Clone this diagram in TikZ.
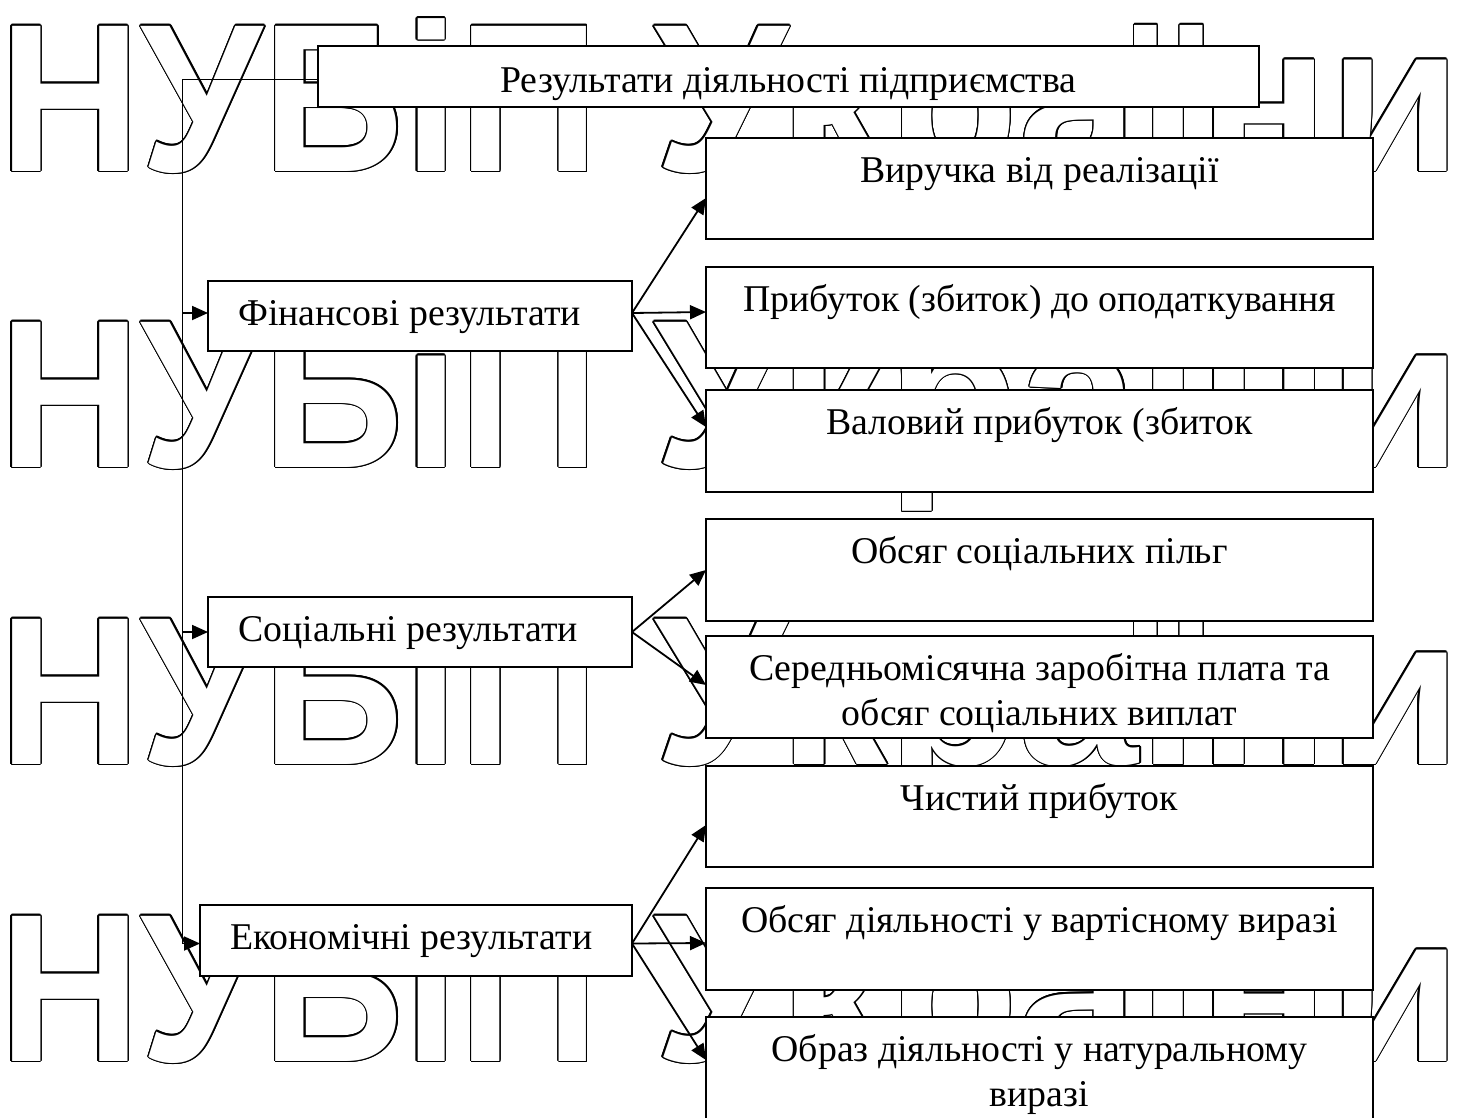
\documentclass[tikz,border=0pt]{standalone}
\usepackage{fontspec}
\setmainfont{Liberation Serif}
\newfontfamily\wmfont{Liberation Sans}
\usetikzlibrary{arrows.meta}
\newcommand{\wmstr}{\scalebox{0.93}[1]{НУБіП }\scalebox{1.02}[1]{України}}
\begin{document}
\begin{tikzpicture}[x=1pt,y=-1pt,
  wm/.style={anchor=base west, inner sep=0pt, font=\wmfont\bfseries\fontsize{211}{211}\selectfont},
  box/.style={draw=black, fill=white, line width=1.3pt, anchor=north west, inner sep=0pt, outer sep=0pt},
  txt/.style={inner sep=0pt, font=\fontsize{37.8}{45.5}\selectfont},
  arr/.style={line width=1.8pt, -{Triangle[length=16pt,width=14pt]}},
  vline/.style={line width=1pt}]
\useasboundingbox (0,0) rectangle (1457,1117);
\clip (0,0) rectangle (1457,1117);
\fill[white] (0,0) rectangle (1457,1117);
% watermark (outlined letters)
\foreach \r/\by in {1/171,2/467,3/764,4/1061}{
  \foreach \a [count=\k] in {0,22.5,...,337.5}{
    \node[wm,text=black,xshift={1.3pt*cos(\a)},yshift={1.3pt*sin(\a)}] (wm\r-\k) at (-1,\by) {\wmstr};
  }
  \node[wm,text=white] (wm\r) at (-1,\by) {\wmstr};
}
% boxes
\node[box,minimum width=941pt,minimum height=61pt] (top) at (318,46) {};
\node[box,minimum width=424pt,minimum height=70pt] (l1) at (208,281) {};
\node[box,minimum width=424pt,minimum height=70pt] (l2) at (208,597) {};
\node[box,minimum width=432pt,minimum height=71pt] (l3) at (200,905) {};
\node[box,minimum width=667pt,minimum height=101pt] (r1) at (706,138) {};
\node[box,minimum width=667pt,minimum height=101pt] (r2) at (706,267) {};
\node[box,minimum width=667pt,minimum height=102pt] (r3) at (706,390) {};
\node[box,minimum width=667pt,minimum height=102pt] (r4) at (706,519) {};
\node[box,minimum width=667pt,minimum height=102pt] (r5) at (706,636) {};
\node[box,minimum width=667pt,minimum height=101pt] (r6) at (706,766) {};
\node[box,minimum width=667pt,minimum height=102pt] (r7) at (706,888) {};
\node[box,minimum width=667pt,minimum height=115pt] (r8) at (706,1017) {};
% texts
\node[txt,anchor=base] (t0) at ([yshift=-46pt]top.north) {Результати діяльності підприємства};
\node[txt,anchor=base west] (tl1) at ([xshift=30pt,yshift=-9pt]l1.west) {Фінансові результати};
\node[txt,anchor=base west] (tl2) at ([xshift=30pt,yshift=-9pt]l2.west) {Соціальні результати};
\node[txt,anchor=base west] (tl3) at ([xshift=30pt,yshift=-9pt]l3.west) {Економічні результати};
\node[txt,anchor=base] (tr1) at ([yshift=-44pt]r1.north) {Виручка від реалізації};
\node[txt,anchor=base] (tr2) at ([yshift=-44pt]r2.north) {Прибуток (збиток) до оподаткування};
\node[txt,anchor=base] (tr3) at ([yshift=-44pt]r3.north) {Валовий прибуток (збиток};
\node[txt,anchor=base] (tr4) at ([yshift=-44pt]r4.north) {Обсяг соціальних пільг};
\node[txt,anchor=base] (tr5) at ([yshift=-44pt]r5.north) {\begin{tabular}[t]{@{}c@{}}Середньомісячна заробітна плата та\\обсяг соціальних виплат\end{tabular}};
\node[txt,anchor=base] (tr6) at ([yshift=-44pt]r6.north) {Чистий прибуток};
\node[txt,anchor=base] (tr7) at ([yshift=-44pt]r7.north) {Обсяг діяльності у вартісному виразі};
\node[txt,anchor=base] (tr8) at ([yshift=-44pt]r8.north) {\begin{tabular}[t]{@{}c@{}}Образ діяльності у натуральному\\виразі\end{tabular}};
% connectors
\coordinate (vtop) at (182,79);
\coordinate (a1) at ([yshift=3pt]l1.west);
\coordinate (a3) at ([yshift=-3pt]l3.west);
\coordinate (vbot) at (vtop |- a3);
\draw[vline] ([yshift=-2.5pt]top.west) -- (vtop) -- (vbot);
\draw[arr] (vtop |- a1) -- (a1);
\draw[arr] (vtop |- l2.west) -- (l2.west);
\draw[arr] (vbot) -- (a3);
\draw[arr] ([yshift=3pt]l1.east) -- ([yshift=-9.5pt]r1.west);
\draw[arr] ([yshift=3pt]l1.east) -- ([yshift=5.5pt]r2.west);
\draw[arr] ([yshift=3pt]l1.east) -- ([yshift=14pt]r3.west);
\draw[arr] (l2.east) -- (r4.west);
\draw[arr] (l2.east) -- ([yshift=2pt]r5.west);
\draw[arr] ([yshift=-3pt]l3.east) -- ([yshift=-8.5pt]r6.west);
\draw[arr] ([yshift=-3pt]l3.east) -- ([yshift=-4pt]r7.west);
\draw[arr] ([yshift=-3pt]l3.east) -- ([yshift=-43pt]r8.north west);
\end{tikzpicture}
\end{document}
